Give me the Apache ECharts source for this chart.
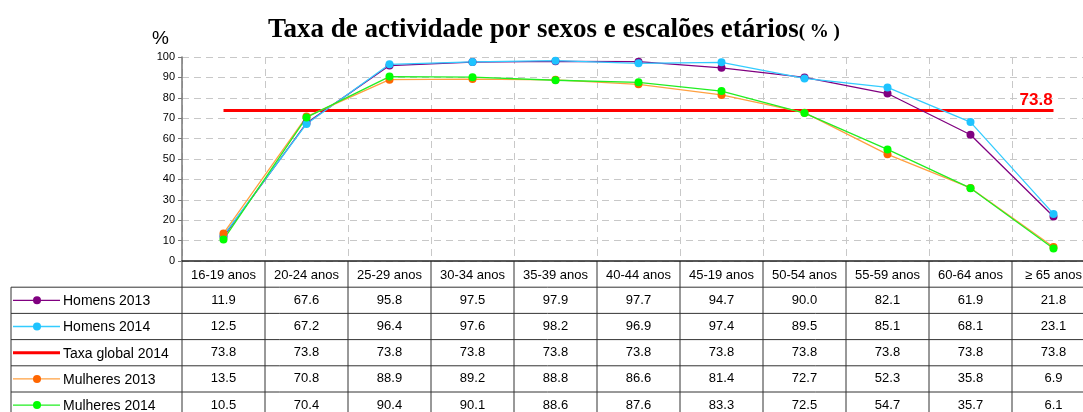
<!DOCTYPE html>
<html>
<head>
<meta charset="utf-8">
<script src="https://cdn.jsdelivr.net/npm/echarts@6/dist/echarts.min.js"></script>
<style>
  html, body { margin: 0; padding: 0; background: #fff; }
  #chart { width: 1083px; height: 412px; }
</style>
</head>
<body>
<div id="chart"></div>
<script>
// 数据
const categories = ['16-19 anos', '20-24 anos', '25-29 anos', '30-34 anos', '35-39 anos', '40-44 anos', '45-19 anos', '50-54 anos', '55-59 anos', '60-64 anos', '\u2265 65 anos']
const homens2013 = [11.9, 67.6, 95.8, 97.5, 97.9, 97.7, 94.7, 90.0, 82.1, 61.9, 21.8]
const homens2014 = [12.5, 67.2, 96.4, 97.6, 98.2, 96.9, 97.4, 89.5, 85.1, 68.1, 23.1]
const taxaGlobal = [73.8, 73.8, 73.8, 73.8, 73.8, 73.8, 73.8, 73.8, 73.8, 73.8, 73.8]
const mulheres2013 = [13.5, 70.8, 88.9, 89.2, 88.8, 86.6, 81.4, 72.7, 52.3, 35.8, 6.9]
const mulheres2014 = [10.5, 70.4, 90.4, 90.1, 88.6, 87.6, 83.3, 72.5, 54.7, 35.7, 6.1]
const yTicks = { min: 0, max: 100, interval: 10 }

// 系列样式
const seriesDefs = [
  { name: 'Homens 2013', data: homens2013, line: '#800080', dot: '#800080' },
  { name: 'Homens 2014', data: homens2014, line: '#33CCFF', dot: '#1EC3FF' },
  { name: 'Taxa global 2014', data: taxaGlobal, line: '#FF0000', dot: null },
  { name: 'Mulheres 2013', data: mulheres2013, line: '#FFA040', dot: '#FF6600' },
  { name: 'Mulheres 2014', data: mulheres2014, line: '#22EE22', dot: '#00FF00' }
]

const font = 'Liberation Sans, Arial, sans-serif'
const chart = echarts.init(document.getElementById('chart'))

const GRID = { left: 182, top: 57, width: 913, height: 204 }

const series = seriesDefs.map((s) => {
  if (!s.dot) {
    return {
      type: 'line',
      name: s.name,
      data: s.data,
      showSymbol: false,
      symbol: 'none',
      lineStyle: { color: s.line, width: 3 },
      z: 1,
      endLabel: {
        show: true,
        formatter: (p) => p.value.toFixed(1),
        offset: [-42, -10],
        color: '#FF0000',
        fontWeight: 'bold',
        fontSize: 17,
        fontFamily: font
      },
      animation: false
    }
  }
  return {
    type: 'line',
    name: s.name,
    data: s.data,
    symbol: 'circle',
    symbolSize: 8,
    lineStyle: { color: s.line, width: 1.3 },
    itemStyle: { color: s.dot },
    z: 3,
    animation: false
  }
})

chart.setOption({
  animation: false,
  title: {
    text: '{b|Taxa de actividade por sexos e escalões etários}{n|( % )}',
    left: 549,
    top: 12,
    textAlign: 'center',
    textStyle: {
      rich: {
        b: { fontFamily: 'Liberation Serif, Times New Roman, serif', fontWeight: 'bold', fontSize: 27, color: '#000' },
        n: { fontFamily: 'Liberation Serif, Times New Roman, serif', fontSize: 19, color: '#000', padding: [4, 0, 0, 0] }
      }
    }
  },
  grid: Object.assign({ outerBoundsMode: 'none', containLabel: false }, GRID),
  xAxis: {
    type: 'category',
    data: categories,
    boundaryGap: true,
    axisLine: { lineStyle: { color: '#222', width: 1.5 } },
    axisTick: { show: false },
    axisLabel: { show: false },
    splitLine: { show: true, interval: 0, lineStyle: { color: '#c8c8c8', type: [7, 5] } }
  },
  yAxis: {
    type: 'value',
    min: yTicks.min,
    max: yTicks.max,
    interval: yTicks.interval,
    axisLine: { show: true, lineStyle: { color: '#777', width: 1.5 } },
    axisTick: { show: true, length: 4, lineStyle: { color: '#777' } },
    axisLabel: { color: '#000', fontSize: 11, fontFamily: font, margin: 7 },
    splitLine: { lineStyle: { color: '#c8c8c8', type: [7, 5] } }
  },
  series: series
})

// 数据表格
const drawTable = () => {
  const elements = []
  const c0 = chart.convertToPixel({ xAxisIndex: 0 }, categories[0])
  const c1 = chart.convertToPixel({ xAxisIndex: 0 }, categories[1])
  const colW = c1 - c0
  const headerTop = chart.convertToPixel({ yAxisIndex: 0 }, yTicks.min)
  const rowH = 26.2
  const tableLeft = 11
  const rowsTop = headerTop + rowH
  const bottom = 440
  const lineColor = '#333'

  // “%”
  elements.push({
    type: 'text', left: 152, top: 29,
    style: { text: '%', font: '19px ' + font, fill: '#000' }
  })

  // 列
  let lastX = 0
  categories.forEach((c, i) => {
    const cx = chart.convertToPixel({ xAxisIndex: 0 }, c)
    const x0 = cx - colW / 2
    lastX = cx + colW / 2
    elements.push({
      type: 'line',
      shape: { x1: x0, y1: headerTop, x2: x0, y2: bottom },
      style: { stroke: lineColor, lineWidth: 1 }
    })
    elements.push({
      type: 'text', x: cx, y: headerTop + rowH / 2 + 1,
      style: { text: c, font: '13px ' + font, fill: '#000', textAlign: 'center', textVerticalAlign: 'middle' }
    })
    seriesDefs.forEach((s, r) => {
      elements.push({
        type: 'text', x: cx, y: rowsTop + rowH * r + rowH / 2,
        style: { text: s.data[i].toFixed(1), font: '13px ' + font, fill: '#000', textAlign: 'center', textVerticalAlign: 'middle' }
      })
    })
  })
  elements.push({
    type: 'line',
    shape: { x1: lastX, y1: headerTop, x2: lastX, y2: bottom },
    style: { stroke: lineColor, lineWidth: 1 }
  })

  // 行
  seriesDefs.forEach((s, r) => {
    const y0 = rowsTop + rowH * r
    elements.push({
      type: 'line',
      shape: { x1: tableLeft, y1: y0, x2: lastX, y2: y0 },
      style: { stroke: lineColor, lineWidth: 1 }
    })
    const cy = y0 + rowH / 2
    elements.push({
      type: 'line',
      shape: { x1: 13, y1: cy, x2: 60, y2: cy },
      style: { stroke: s.line, lineWidth: s.dot ? 1.3 : 3 }
    })
    if (s.dot) {
      elements.push({
        type: 'circle',
        shape: { cx: 37, cy: cy, r: 4 },
        style: { fill: s.dot }
      })
    }
    elements.push({
      type: 'text', x: 63, y: cy + 1,
      style: { text: s.name, font: '14px ' + font, fill: '#000', textVerticalAlign: 'middle' }
    })
  })
  elements.push({
    type: 'line',
    shape: { x1: tableLeft, y1: rowsTop, x2: tableLeft, y2: bottom },
    style: { stroke: lineColor, lineWidth: 1 }
  })

  chart.setOption({ graphic: elements })
}
drawTable()
</script>
</body>
</html>
